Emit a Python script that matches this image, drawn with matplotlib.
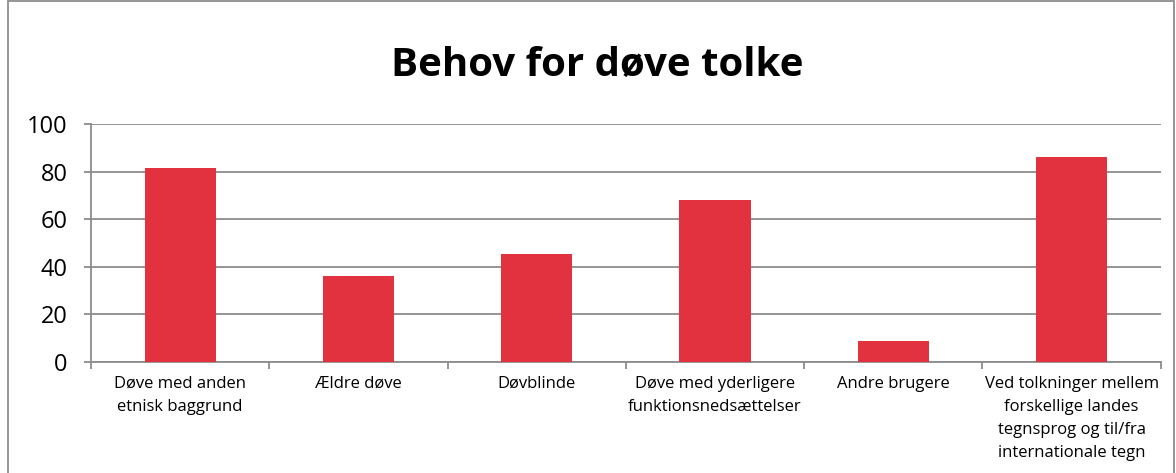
import numpy as np
import matplotlib.pyplot as plt
from matplotlib.patches import Rectangle

plt.rcParams['font.family'] = ['Liberation Sans Narrow', 'Open Sans', 'DejaVu Sans']

# Data
categories = [
    "Døve med anden\netnisk baggrund",
    "Ældre døve",
    "Døvblinde",
    "Døve med yderligere\nfunktionsnedsættelser",
    "Andre brugere",
    "Ved tolkninger mellem\nforskellige landes\ntegnsprog og til/fra\ninternationale tegn",
]
values = [81.5, 36.3, 45.3, 68.0, 8.8, 86.2]
yticks = [0, 20, 40, 60, 80, 100]

bar_color = "#E3323F"
axis_gray = "#8C8C8C"

fig = plt.figure(figsize=(11.76, 4.73), dpi=100)
ax = fig.add_axes([0.0774, 0.2347, 0.9096, 0.5031])

x = np.arange(len(categories))
ax.bar(x, values, width=0.4, color=bar_color, zorder=3)

ax.set_xlim(-0.5, len(categories) - 0.5)
ax.set_ylim(0, 100)
ax.set_yticks(yticks)
ax.grid(axis="y", color=axis_gray, linewidth=1.3, zorder=0)

# category boundaries as major ticks, labels on minor ticks
ax.set_xticks(np.arange(-0.5, len(categories), 1.0))
ax.set_xticklabels([])
ax.set_xticks(x, minor=True)
ax.set_xticklabels(categories, minor=True, fontsize=12, linespacing=1.6,
                   va="top")
ax.tick_params(axis="x", which="minor", length=0, pad=10)
ax.tick_params(axis="x", which="major", length=5, color=axis_gray, width=1.3)
ax.tick_params(axis="y", length=5, color=axis_gray, width=1.3, labelsize=17, pad=12)

for side in ["top", "right"]:
    ax.spines[side].set_visible(False)
for side in ["left", "bottom"]:
    ax.spines[side].set_color(axis_gray)
    ax.spines[side].set_linewidth(1.3)

fig.text(0.508, 0.862, "Behov for døve tolke", ha="center", va="center",
         fontsize=29, fontweight="bold")

# outer chart frame
fig.patches.append(Rectangle((0.007, -0.01), 0.991, 1.008, transform=fig.transFigure,
                             fill=False, edgecolor=axis_gray, linewidth=1.3))

fig.savefig("out.png", dpi=100)
